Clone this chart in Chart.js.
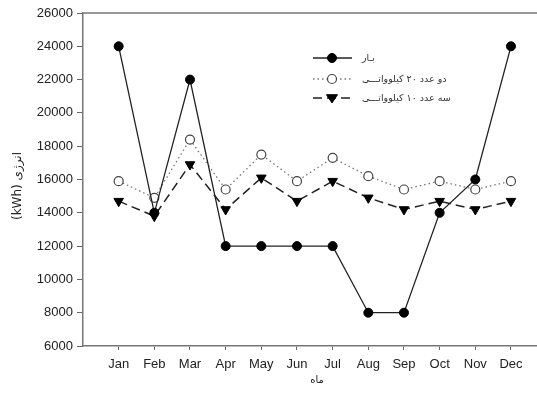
<!DOCTYPE html>
<html>
<head>
<meta charset="utf-8">
<script src="https://cdn.jsdelivr.net/npm/chart.js@4"></script>
<style>
  html, body { margin: 0; padding: 0; background: #fff; overflow: hidden; }
  #box { width: 537px; height: 403px; }
</style>
</head>
<body>
<div id="box"><canvas id="grafico"></canvas></div>
<script>
// dados
const meses = ['Jan', 'Feb', 'Mar', 'Apr', 'May', 'Jun', 'Jul', 'Aug', 'Sep', 'Oct', 'Nov', 'Dec'];
const bar = [24000, 14000, 22000, 12000, 12000, 12000, 12000, 8000, 8000, 14000, 16000, 24000];
const dois20kw = [15900, 14900, 18400, 15400, 17500, 15900, 17300, 16200, 15400, 15900, 15400, 15900];
const tres10kw = [14700, 13800, 16900, 14200, 16100, 14700, 15900, 14900, 14200, 14700, 14200, 14700];
const yTicks = [6000, 8000, 10000, 12000, 14000, 16000, 18000, 20000, 22000, 24000, 26000];

const nomes = ['بـار', 'دو عدد ۲۰ کیلوواتـــی', 'سه عدد ۱۰ کیلوواتـــی'];
const tituloY = '(kWh) انرژی';
const tituloX = 'ماه';

const fonte = '"Liberation Sans", Arial, sans-serif';
const fonteFa = '"DejaVu Sans", "Noto Sans", sans-serif';

function pontos(valores) {
    return valores.map((v, i) => ({ x: i + 1, y: v }));
}

// legenda, borda de cima e titulos dos eixos
const extras = {
    id: 'extras',
    afterDraw(chart) {
        const ctx = chart.ctx;
        const a = chart.chartArea;
        ctx.save();
        // borda de cima
        ctx.strokeStyle = '#777';
        ctx.lineWidth = 1.5;
        ctx.beginPath();
        ctx.moveTo(a.left, a.top);
        ctx.lineTo(a.right, a.top);
        ctx.stroke();

        // titulo Y
        ctx.fillStyle = '#222';
        ctx.font = '12px ' + fonteFa;
        ctx.textAlign = 'center';
        ctx.textBaseline = 'middle';
        ctx.save();
        ctx.translate(18, 186);
        ctx.rotate(-Math.PI / 2);
        ctx.fillText(tituloY, 0, 0);
        ctx.restore();

        // titulo X
        ctx.font = '10px ' + fonteFa;
        ctx.fillText(tituloX, 317, 380);

        // legenda
        const linhas = [58, 79, 98];
        chart.data.datasets.forEach((ds, i) => {
            const y = linhas[i];
            const mx = 332;
            ctx.strokeStyle = ds.borderColor;
            ctx.lineWidth = ds.borderWidth;
            ctx.setLineDash(ds.borderDash || []);
            ctx.beginPath();
            ctx.moveTo(313, y);
            ctx.lineTo(352, y);
            ctx.stroke();
            ctx.setLineDash([]);
            ctx.fillStyle = ds.pointBackgroundColor;
            ctx.strokeStyle = ds.pointBorderColor;
            ctx.lineWidth = ds.pointBorderWidth;
            ctx.beginPath();
            if (ds.pointStyle === 'circle') {
                ctx.arc(mx, y, ds.pointRadius, 0, Math.PI * 2);
            } else {
                const r = ds.pointRadius;
                ctx.moveTo(mx - r, y - r * 0.6);
                ctx.lineTo(mx + r, y - r * 0.6);
                ctx.lineTo(mx, y + r * 0.9);
                ctx.closePath();
            }
            ctx.fill();
            ctx.stroke();
            ctx.fillStyle = '#333';
            ctx.font = '9.5px ' + fonteFa;
            ctx.textAlign = 'left';
            ctx.fillText(nomes[i], 362, y + 1);
        });
        ctx.restore();
    }
};

const ctx = document.getElementById('grafico').getContext('2d');
const grafico = new Chart(ctx, {
    type: 'line',
    data: {
        datasets: [{
            label: nomes[0],
            data: pontos(bar),
            borderColor: '#222',
            borderWidth: 1.3,
            pointStyle: 'circle',
            pointRadius: 4.5,
            pointBackgroundColor: '#000',
            pointBorderColor: '#000',
            pointBorderWidth: 1,
            tension: 0
        }, {
            label: nomes[1],
            data: pontos(dois20kw),
            borderColor: '#777',
            borderWidth: 1.3,
            borderDash: [1.5, 3],
            pointStyle: 'circle',
            pointRadius: 4.5,
            pointBackgroundColor: '#fff',
            pointBorderColor: '#444',
            pointBorderWidth: 1.2,
            tension: 0
        }, {
            label: nomes[2],
            data: pontos(tres10kw),
            borderColor: '#222',
            borderWidth: 1.5,
            borderDash: [9, 5],
            pointStyle: 'triangle',
            pointRotation: 180,
            pointRadius: 5.5,
            pointBackgroundColor: '#000',
            pointBorderColor: '#000',
            pointBorderWidth: 1,
            tension: 0
        }]
    },
    options: {
        responsive: true,
        maintainAspectRatio: false,
        animation: false,
        devicePixelRatio: 1,
        layout: { autoPadding: false, padding: { left: 0, top: 13, right: 0, bottom: 0 } },
        plugins: {
            legend: { display: false },
            tooltip: { enabled: false }
        },
        elements: { line: { fill: false } },
        scales: {
            x: {
                type: 'linear',
                min: 0,
                max: 12.73,
                afterBuildTicks: (s) => { s.ticks = meses.map((m, i) => ({ value: i + 1 })); },
                afterFit: (s) => {
                    s.height = 57;
                    s.paddingLeft = 0;
                    s.paddingRight = 0;
                },
                grid: { drawOnChartArea: false, tickLength: 4, color: '#666', lineWidth: 1 },
                border: { display: true, color: '#777', width: 1.5 },
                ticks: {
                    autoSkip: false,
                    maxRotation: 0,
                    padding: 7,
                    color: '#222',
                    font: { family: fonte, size: 13 },
                    callback: (v) => meses[v - 1]
                }
            },
            y: {
                min: 6000,
                max: 26000,
                afterBuildTicks: (s) => { s.ticks = yTicks.map(v => ({ value: v })); },
                afterFit: (s) => {
                    s.width = 83;
                    s.paddingTop = 0;
                    s.paddingBottom = 0;
                },
                grid: { drawOnChartArea: false, tickLength: 6, color: '#666', lineWidth: 1 },
                border: { display: true, color: '#777', width: 1.5 },
                ticks: {
                    padding: 4,
                    color: '#222',
                    font: { family: fonte, size: 13 },
                    callback: (v) => String(v)
                }
            }
        }
    },
    plugins: [extras]
});
</script>
</body>
</html>
